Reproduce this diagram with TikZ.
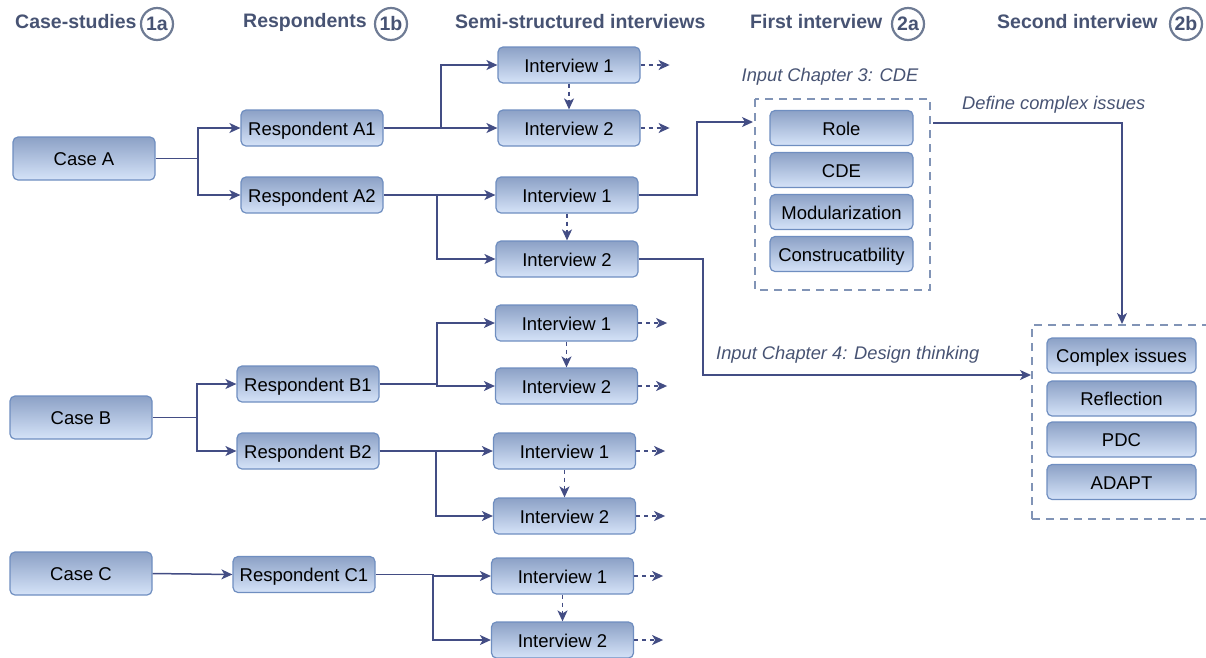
\documentclass[tikz,border=0pt]{standalone}
\usepackage{fontspec}
\setmainfont{Liberation Sans}
\usetikzlibrary{arrows.meta,shadings,calc}
\definecolor{boxtop}{HTML}{8CA1C6}
\definecolor{boxbot}{HTML}{D5E3F8}
\definecolor{boxline}{HTML}{6F8EC0}
\definecolor{conn}{HTML}{434D84}
\definecolor{headc}{HTML}{475373}
\definecolor{ringc}{HTML}{6E7B94}
\definecolor{groupc}{HTML}{8194B6}
\tikzset{
  box/.style={draw=boxline, line width=1.2pt, rounded corners=5pt,
    top color=boxtop, bottom color=boxbot, minimum width=142pt,
    minimum height=36pt, inner sep=0pt, text height=14.6pt, text depth=0pt,
    font=\fontsize{18.5}{20}\selectfont},
  casebox/.style={box, minimum height=43pt},
  smallbox/.style={box, minimum width=143pt, minimum height=35pt},
  head/.style={text=headc, font=\bfseries\fontsize{19.5}{22}\selectfont, inner sep=0pt},
  ring/.style={circle, draw=ringc, line width=2.2pt, minimum size=32pt, inner sep=0pt,
    text=headc, font=\bfseries\fontsize{19.5}{22}\selectfont},
  note/.style={text=headc, font=\itshape\fontsize{18.3}{20}\selectfont, inner sep=0pt},
  group/.style={draw=groupc, line width=2.4pt, dash pattern=on 8pt off 6pt},
  conn/.style={draw=conn, line width=1.5pt},
  arr/.style={conn, -{Stealth[length=11pt,width=10pt,inset=3pt]}},
  darr/.style={arr, dash pattern=on 4pt off 4pt},
}
\begin{document}
\begin{tikzpicture}[x=1pt,y=-1pt]
\useasboundingbox (0,0) rectangle (1206,657);
\begin{scope}
\clip (0,0) rectangle (1206,657);

% column headings
\node[head, anchor=west] (h1) at (15,22) {Case-studies};
\node[ring] (r1) at (157,24) {1a};
\node[head, anchor=west] (h2) at (243,22) {Respondents};
\node[ring] (r2) at (391,24) {1b};
\node[head, anchor=west] (h3) at (455,22) {Semi-structured interviews};
\node[head, anchor=west] (h4) at (750,22) {First interview};
\node[ring] (r4) at (908,24) {2a};
\node[head, anchor=west] (h5) at (997,22) {Second interview};
\node[ring] (r5) at (1186,24) {2b};

% cases
\node[casebox] (caseA) at (84,158.5) {Case A};
\node[casebox] (caseB) at (81,417.5) {Case B};
\node[casebox] (caseC) at (81,573.5) {Case C};

% respondents
\node[box] (rA1) at (312,128) {Respondent A1};
\node[box] (rA2) at (312,195) {Respondent A2};
\node[box] (rB1) at (308,384) {Respondent B1};
\node[box] (rB2) at (308,451) {Respondent B2};
\node[box] (rC1) at (304,574.5) {Respondent C1};

% interviews
\node[box] (iA11) at (569,65) {Interview 1};
\node[box] (iA12) at (569,128) {Interview 2};
\node[box] (iA21) at (567,195) {Interview 1};
\node[box] (iA22) at (567,259) {Interview 2};
\node[box] (iB11) at (566.5,323) {Interview 1};
\node[box] (iB12) at (566.5,386) {Interview 2};
\node[box] (iB21) at (564.5,451) {Interview 1};
\node[box] (iB22) at (564.5,516) {Interview 2};
\node[box] (iC11) at (562.5,576) {Interview 1};
\node[box] (iC12) at (562.5,640) {Interview 2};

% first interview topics
\node[smallbox] (role) at (841.5,128) {Role};
\node[smallbox] (cde) at (841.5,170) {CDE};
\node[smallbox] (modu) at (841.5,212) {Modularization};
\node[smallbox] (cons) at (841.5,254) {Construcatbility};
\draw[group] (755,99) rectangle (930,290);
\coordinate (g1w) at (753,122);
\coordinate (g1e) at (933,123);
\node[note] (n1) at (830,77) {Input Chapter 3: CDE};
\node[note, anchor=west] (n2) at (962,105) {Define complex issues};

% second interview topics
\node[smallbox, minimum width=149pt] (cplx) at (1121.5,355.5) {Complex issues};
\node[smallbox, minimum width=149pt] (refl) at (1121.5,398.5) {Reflection};
\node[smallbox, minimum width=149pt] (pdc) at (1121.5,439.5) {PDC};
\node[smallbox, minimum width=149pt] (adapt) at (1121.5,482) {ADAPT};
\draw[group] (1032,519) -- (1032,325) -- (1212,325);
\draw[group] (1032,519) -- (1212,519);
\coordinate (g2n) at (1122,324);
\coordinate (g2w) at (1031,375);
\node[note, anchor=west] (n3) at (716,355) {Input Chapter 4: Design thinking};

% case to respondents
\draw[arr] (caseA.east) -- (198,158.5) |- (rA1.west);
\draw[arr] (198,158.5) |- (rA2.west);
\draw[arr] (caseB.east) -- (197,417.5) |- (rB1.west);
\draw[arr] (197,417.5) |- (rB2.west);
\draw[arr] (caseC.east) -- (rC1.west);

% respondents to interviews
\draw[arr] (rA1.east) -- (441,128) |- (iA11.west);
\draw[arr] (rA1.east) -- (iA12.west);
\draw[arr] (rA2.east) -- (iA21.west);
\draw[arr] (437,195) |- (iA22.west);
\draw[arr] (rB1.east) -- (437,384) |- (iB11.west);
\draw[arr] (437,384) |- (iB12.west);
\draw[arr] (rB2.east) -- (iB21.west);
\draw[arr] (436,451) |- (iB22.west);
\draw[arr] (rC1.east) -- (433,574.5) -- (433,576) -- (iC11.west);
\draw[arr] (433,576) |- (iC12.west);

% interview 1 to interview 2
\foreach \a/\b in {iA11/iA12, iA21/iA22, iB11/iB12, iB21/iB22, iC11/iC12}
  \draw[darr] (\a.south) -- (\b.north);

% open follow-up arrows
\foreach \n in {iA11, iA12, iB11, iB12, iB21, iB22, iC11, iC12}{
  \coordinate (\n-out) at ($(\n.east)+(29,0)$);
  \draw[darr] (\n.east) -- (\n-out);
}

% interviews into the chapter inputs
\draw[arr] (iA21.east) -- (697,195) |- (g1w);
\draw[arr] (iA22.east) -- (703,259) |- (g2w);
\draw[arr] (g1e) -| (g2n);
\end{scope}
\end{tikzpicture}
\end{document}
